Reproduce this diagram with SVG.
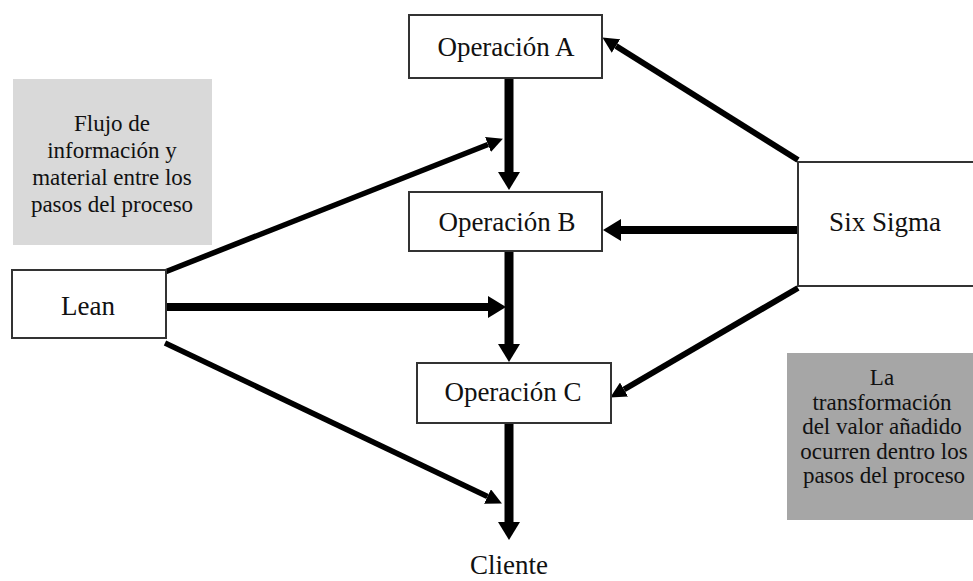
<svg xmlns="http://www.w3.org/2000/svg" width="973" height="581" viewBox="0 0 973 581">
<style>
.box{fill:#fff;stroke:#333;stroke-width:2}
.t{font-family:"Liberation Serif","Times New Roman",serif;font-size:27px;fill:#111;text-anchor:middle}
.g{font-family:"Liberation Serif","Times New Roman",serif;font-size:23px;fill:#111;text-anchor:middle}
.c{stroke:#000;fill:none}
</style>
<defs>
<marker id="big" markerUnits="userSpaceOnUse" markerWidth="18" markerHeight="22" refX="0" refY="11" orient="auto" viewBox="0 0 18 22">
<path d="M0,0 L18,11 L0,22 z" fill="#000"/>
</marker>
<marker id="sm" markerUnits="userSpaceOnUse" markerWidth="16" markerHeight="16" refX="0" refY="8" orient="auto" viewBox="0 0 16 16">
<path d="M0,0 L16,8 L0,16 z" fill="#000"/>
</marker>
</defs>
<rect width="973" height="581" fill="#fff"/>

<g id="note-lean">
<rect x="13" y="79" width="199" height="166" fill="#d9d9d9"/>
<text class="g" x="112" y="131">Flujo de</text>
<text class="g" x="112" y="158">información y</text>
<text class="g" x="112" y="185">material entre los</text>
<text class="g" x="112" y="212">pasos del proceso</text>
</g>
<g id="note-sixsigma">
<rect x="787" y="353" width="190" height="167" fill="#a6a6a6"/>
<text class="g" x="882" y="385">La</text>
<text class="g" x="882" y="410">transformación</text>
<text class="g" x="882" y="434">del valor añadido</text>
<text class="g" x="884" y="459">ocurren dentro los</text>
<text class="g" x="884" y="483">pasos del proceso</text>
</g>

<g id="connectors">
<line class="c" x1="509" y1="78" x2="509" y2="172" stroke-width="9" marker-end="url(#big)"/>
<line class="c" x1="509" y1="251" x2="509" y2="344" stroke-width="9" marker-end="url(#big)"/>
<line class="c" x1="509" y1="423" x2="509" y2="522" stroke-width="9" marker-end="url(#big)"/>
<line class="c" x1="166" y1="307" x2="488" y2="307" stroke-width="8" marker-end="url(#big)"/>
<line class="c" x1="165" y1="272" x2="488" y2="144.5" stroke-width="5.5" marker-end="url(#sm)"/>
<line class="c" x1="165" y1="343" x2="487.5" y2="496.5" stroke-width="5.5" marker-end="url(#sm)"/>
<line class="c" x1="798" y1="160" x2="616" y2="46" stroke-width="6" marker-end="url(#sm)"/>
<line class="c" x1="798" y1="230" x2="621" y2="230" stroke-width="8" marker-end="url(#big)"/>
<line class="c" x1="798" y1="288" x2="624" y2="389.5" stroke-width="6" marker-end="url(#sm)"/>
</g>

<g id="op-a">
<rect class="box" x="409" y="15" width="193" height="63"/>
<text class="t" x="506" y="56">Operación A</text>
</g>
<g id="op-b">
<rect class="box" x="409" y="192" width="193" height="59"/>
<text class="t" x="507" y="231">Operación B</text>
</g>
<g id="op-c">
<rect class="box" x="417" y="363" width="194" height="60"/>
<text class="t" x="513" y="401">Operación C</text>
</g>
<g id="lean">
<rect class="box" x="12" y="270" width="154" height="68"/>
<text class="t" x="88" y="315">Lean</text>
</g>
<g id="six-sigma">
<rect class="box" x="798" y="162" width="185" height="124"/>
<text class="t" x="885" y="231">Six  Sigma</text>
</g>
<g id="cliente">
<text class="t" x="509" y="574">Cliente</text>
</g>
</svg>
